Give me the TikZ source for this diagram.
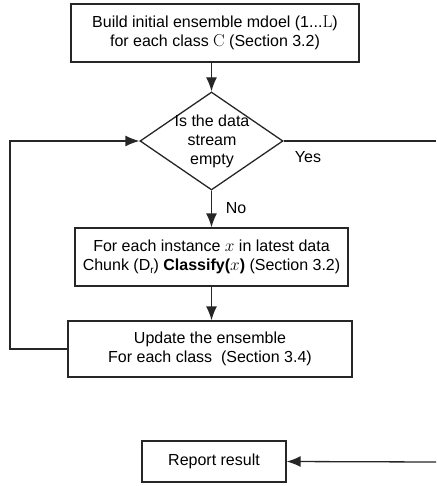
\documentclass[tikz,border=0pt]{standalone}
\usepackage[no-math]{fontspec}
\setmainfont{Liberation Sans}
\usetikzlibrary{arrows.meta,shapes.geometric}
\tikzset{
  box/.style={draw=black!85, line width=1.3pt, rectangle, inner sep=0pt, align=center,
    font=\fontsize{16}{19}\selectfont},
  txt/.style={inner sep=0pt, align=center, font=\fontsize{16}{19}\selectfont},
  conn/.style={draw=black!85, line width=1.3pt},
  arr/.style={conn, -{Latex[length=14pt,width=11pt]}},
}
\begin{document}
\begin{tikzpicture}[x=1pt,y=-1pt]
\useasboundingbox (0,0) rectangle (436,486);
\node[box, minimum width=288pt, minimum height=58pt] (top) at (215,33)
  {Build initial ensemble mdoel (1...$\mathrm{L}$)\\ for each class $\mathrm{C}$ (Section 3.2)};
\node[draw=black!85, line width=1.3pt, diamond, inner sep=0pt, minimum width=143pt, minimum height=98pt] (dia) at (211.5,141) {};
\node[txt] (diatext) at (212,141) {Is the data\\ stream\\ empty};
\node[box, minimum width=273pt, minimum height=58pt] (chunk) at (211.5,257)
  {For each instance $x$ in latest data\\ Chunk (D\raisebox{-3pt}{\fontsize{10}{10}\selectfont r}) \textbf{Classify(}$x$\textbf{)} (Section 3.2)};
\node[box, minimum width=284pt, minimum height=56pt] (upd) at (210,349)
  {Update the ensemble\\ For each class\ \ (Section 3.4)};
\node[box, minimum width=144pt, minimum height=41pt] (rep) at (214,461.5) {Report result};
\node[txt] (yes) at (308,157) {Yes};
\node[txt] (no) at (236,208) {No};
\coordinate (yesend) at (436,141);
\coordinate (repstart) at (436,462);
\coordinate (loopb) at (10,349);
\coordinate (loopt) at (10,141);
\draw[arr] (dia.north |- top.south) -- (dia.north);
\draw[arr] (dia.south) -- (chunk.north);
\draw[arr] (chunk.south) -- (chunk.south |- upd.north);
\draw[arr] (upd.west) -- (loopb) -- (loopt) -- (dia.west);
\draw[conn] (dia.east) -- (yesend);
\draw[arr] (repstart) -- (rep.east);
\end{tikzpicture}
\end{document}
